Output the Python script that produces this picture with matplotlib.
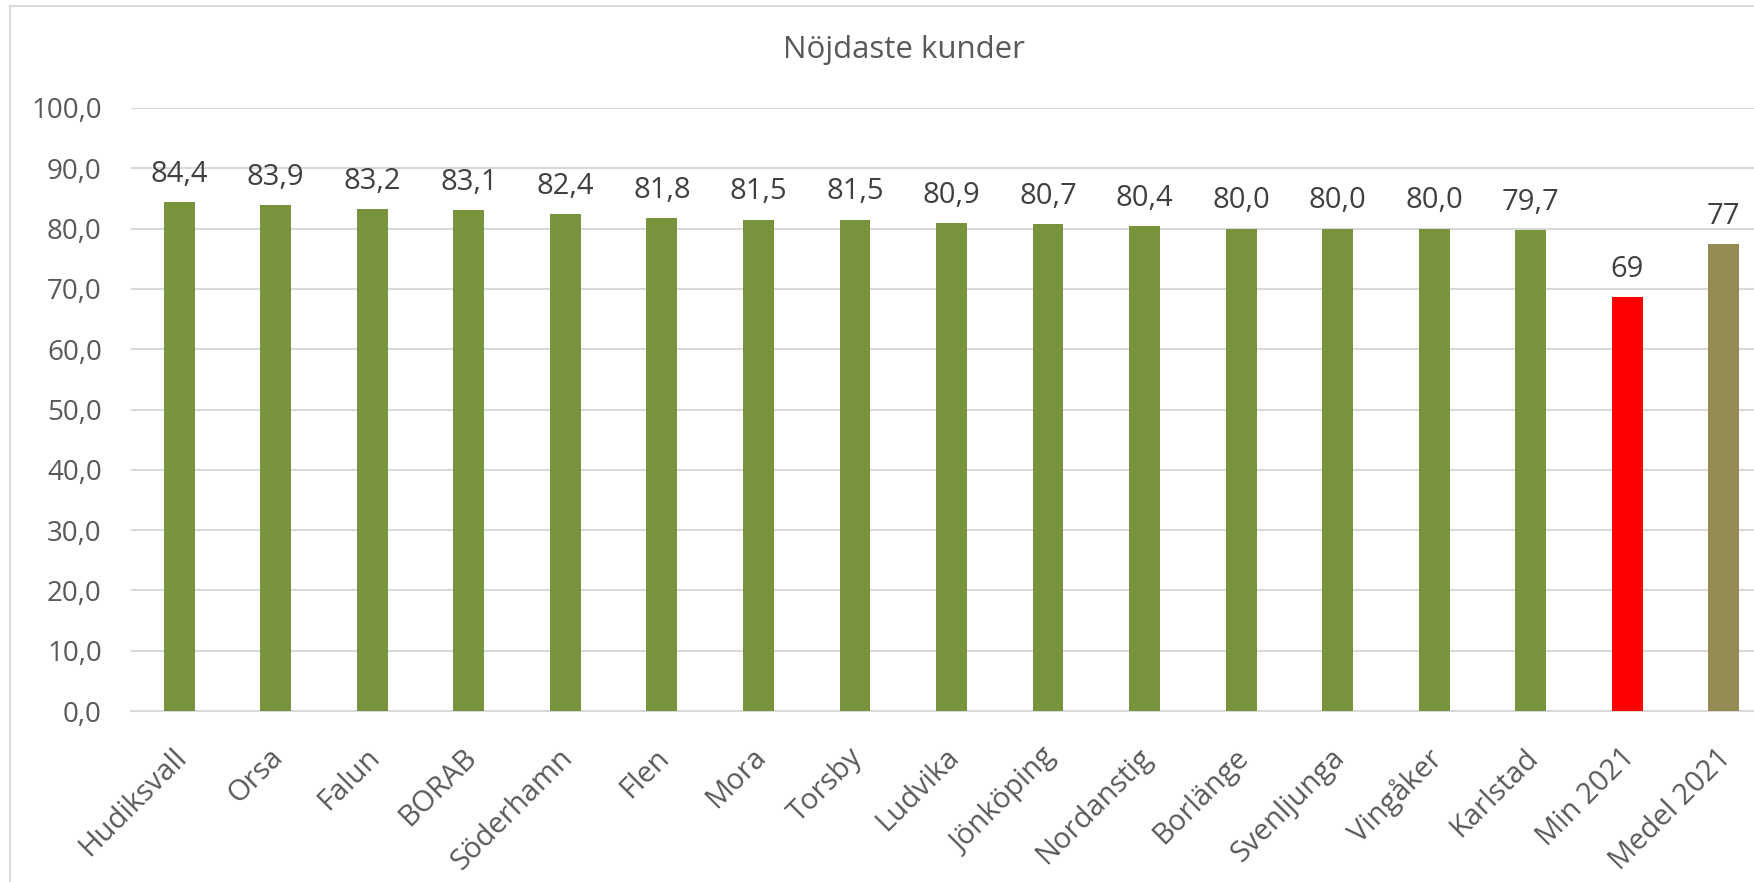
import matplotlib
matplotlib.use("Agg")
import matplotlib.pyplot as plt
from matplotlib.patches import Rectangle
from matplotlib.ticker import MultipleLocator, FuncFormatter
from matplotlib.transforms import ScaledTranslation

categories = ["Hudiksvall", "Orsa", "Falun", "BORAB", "Söderhamn", "Flen", "Mora",
              "Torsby", "Ludvika", "Jönköping", "Nordanstig", "Borlänge", "Svenljunga",
              "Vingåker", "Karlstad", "Min 2021", "Medel 2021"]
values = [84.4, 83.9, 83.2, 83.1, 82.4, 81.8, 81.5, 81.5, 80.9, 80.7, 80.4, 80.0,
          80.0, 80.0, 79.7, 68.7, 77.4]
decimals = [1] * 15 + [0, 0]
bar_colors = ["#77933C"] * 15 + ["#FF0000", "#948A54"]
title = "Nöjdaste kunder"

plt.rcParams['font.family'] = ['Open Sans', 'DejaVu Sans']

W, H = 1754, 882
fig = plt.figure(figsize=(W / 100, H / 100), dpi=100)

# chart area border (cut off at right and bottom)
fig.patches.append(Rectangle((10 / W, -0.05), 1.2, (H - 6) / H + 0.05,
                             transform=fig.transFigure, fill=False,
                             edgecolor="#D9D9D9", linewidth=1.5))

left, right = 131 / W, 1772 / W
bottom, top = (H - 711) / H, (H - 108) / H
ax = fig.add_axes([left, bottom, right - left, top - bottom])

x = list(range(len(categories)))
bars = ax.bar(x, values, width=0.32, color=bar_colors, zorder=3)
ax.set_xlim(-0.5, len(categories) - 0.5)
ax.set_ylim(0, 100)
ax.yaxis.set_major_locator(MultipleLocator(10))
ax.yaxis.set_major_formatter(FuncFormatter(lambda v, p: f"{v:.1f}".replace(".", ",")))
ax.grid(axis="y", color="#D9D9D9", linewidth=1.5, zorder=0)
for s in ["left", "right", "top"]:
    ax.spines[s].set_visible(False)
ax.spines["bottom"].set_color("#D9D9D9")
ax.spines["bottom"].set_linewidth(1.5)
ax.tick_params(axis="y", length=0, pad=21, labelsize=20, labelcolor="#595959")
ax.tick_params(axis="x", length=0, pad=23, labelsize=21, labelcolor="#595959")
ax.set_xticks(x)
ax.set_xticklabels(categories, rotation=45, ha="right", va="top", rotation_mode="anchor")
shift = ScaledTranslation(-7 / 100, 0, fig.dpi_scale_trans)
for lbl in ax.get_xticklabels():
    lbl.set_transform(lbl.get_transform() + shift)

for xi, v, d in zip(x, values, decimals):
    txt = f"{v:.{d}f}".replace(".", ",")
    ax.annotate(txt, (xi, v), xytext=(0, 14.5), textcoords="offset points",
                ha="center", va="baseline", fontsize=21, color="#404040")

fig.text(904 / W, 1 - 50 / H, title, ha="center", va="center", fontsize=22.5, color="#595959")

fig.savefig("out.png", dpi=100)
